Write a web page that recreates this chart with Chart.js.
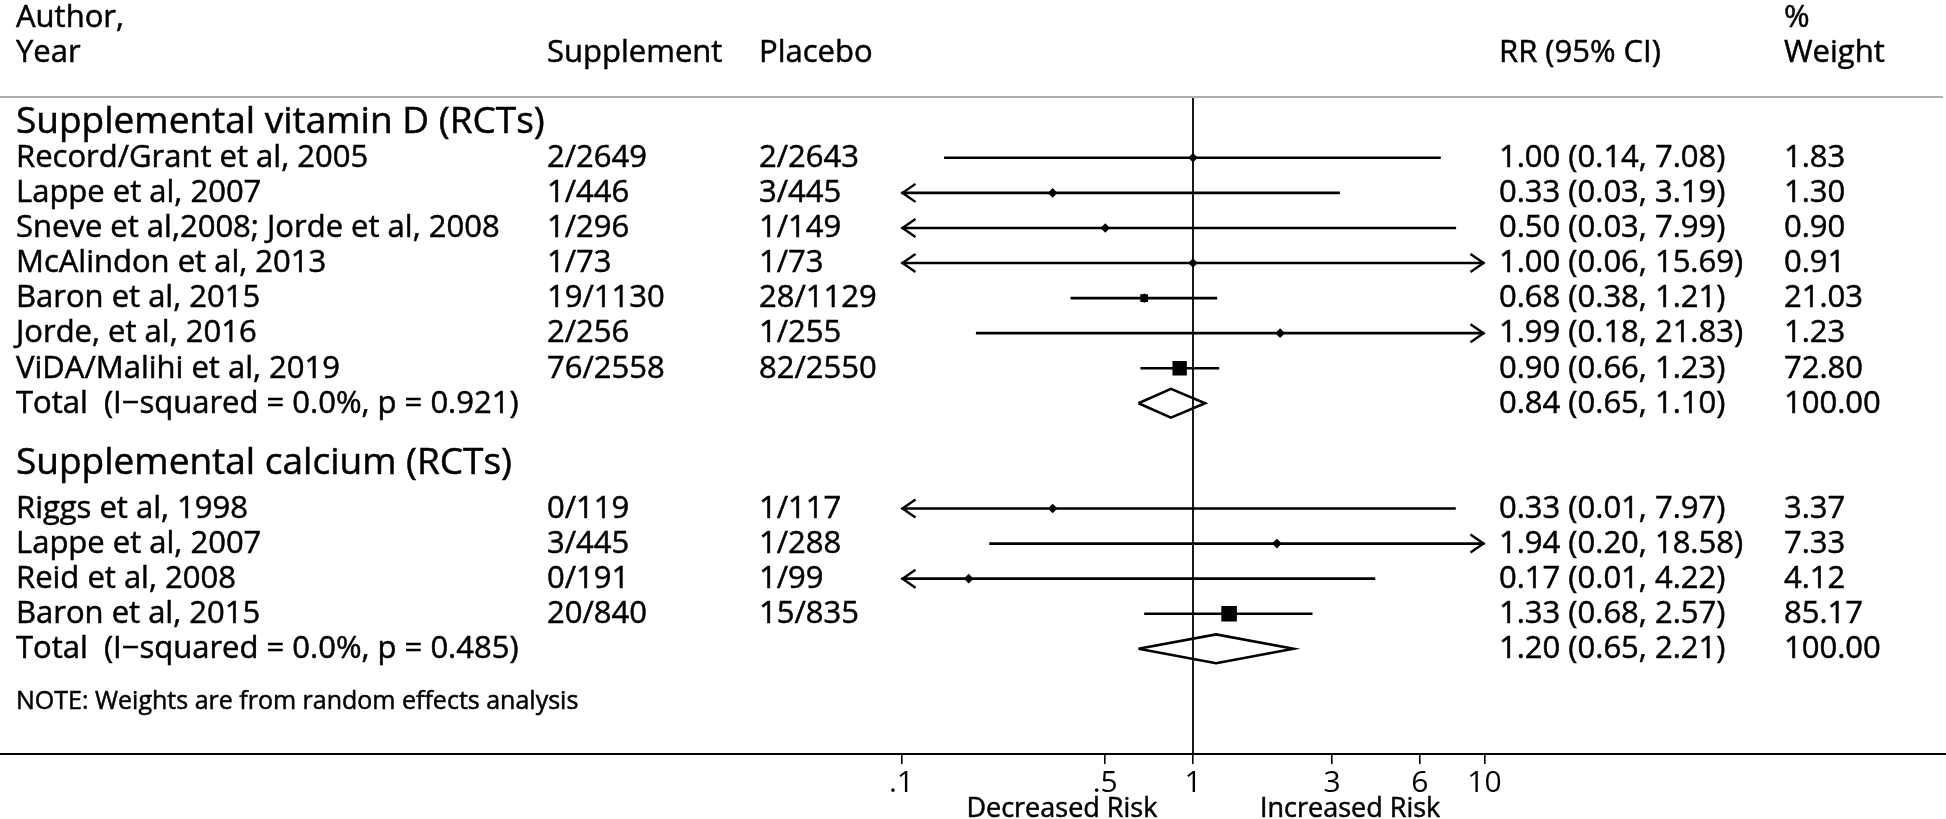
<!DOCTYPE html>
<html>
<head>
<meta charset="utf-8">
<title>Vitamin D / calcium forest plot</title>
<script src="https://cdn.jsdelivr.net/npm/chart.js@4.4.1/dist/chart.umd.min.js"></script>
<style>
  html, body { margin: 0; padding: 0; background: #fff; }
  #wrap { width: 1946px; height: 819px; position: relative; }
</style>
</head>
<body>
<div id="wrap"><canvas id="forest"></canvas></div>
<script>
// ---- values ----
const groupNames = ["Supplemental vitamin D (RCTs)", "Supplemental calcium (RCTs)"];
const groupP = ["0.921", "0.485"];
const groupI2 = ["0.0", "0.0"];
const pooledRR = [0.84, 1.20];
const pooledLow = [0.65, 0.65];
const pooledHigh = [1.10, 2.21];

const studyGroup = [0, 0, 0, 0, 0, 0, 0, 1, 1, 1, 1];
const studyLabels = [
  "Record/Grant et al, 2005",
  "Lappe et al, 2007",
  "Sneve et al,2008; Jorde et al, 2008",
  "McAlindon et al, 2013",
  "Baron et al, 2015",
  "Jorde, et al, 2016",
  "ViDA/Malihi et al, 2019",
  "Riggs et al, 1998",
  "Lappe et al, 2007",
  "Reid et al, 2008",
  "Baron et al, 2015"
];
const supplementEvents = ["2/2649", "1/446", "1/296", "1/73", "19/1130", "2/256", "76/2558", "0/119", "3/445", "0/191", "20/840"];
const placeboEvents = ["2/2643", "3/445", "1/149", "1/73", "28/1129", "1/255", "82/2550", "1/117", "1/288", "1/99", "15/835"];
const studyRR = [1.00, 0.33, 0.50, 1.00, 0.68, 1.99, 0.90, 0.33, 1.94, 0.17, 1.33];
const studyLow = [0.14, 0.03, 0.03, 0.06, 0.38, 0.18, 0.66, 0.01, 0.20, 0.01, 0.68];
const studyHigh = [7.08, 3.19, 7.99, 15.69, 1.21, 21.83, 1.23, 7.97, 18.58, 4.22, 2.57];
const studyWeight = [1.83, 1.30, 0.90, 0.91, 21.03, 1.23, 72.80, 3.37, 7.33, 4.12, 85.17];

const xTicks = [0.1, 0.5, 1, 3, 6, 10];
const xTickLabels = [".1", ".5", "1", "3", "6", "10"];

// ---- layout (row units on the y scale) ----
const groupFirstRow = [0, 10];
const groupHeaderRow = [-1.1, 8.62];
const FONT = "'Open Sans', 'Liberation Sans', sans-serif";
const COL_LABEL = 16, COL_SUPP = 547, COL_PLAC = 759, COL_RR = 1499, COL_WT = 1784;

// row of each study and of each group total
const studyRow = [];
const totalRow = [];
{
  const seen = [0, 0];
  studyGroup.forEach(g => { studyRow.push(groupFirstRow[g] + seen[g]); seen[g]++; });
  seen.forEach((n, g) => totalRow.push(groupFirstRow[g] + n));
}

const fmt = v => v.toFixed(2);

// ---- datasets ----
const datasets = [];
studyRR.forEach((rr, i) => {
  datasets.push({
    type: "scatter", showLine: true,
    data: [{ x: studyLow[i], y: studyRow[i] }, { x: studyHigh[i], y: studyRow[i] }],
    borderColor: "#000", borderWidth: 2.6, pointRadius: 0
  });
});
// weight boxes: area proportional to weight
datasets.push({
  type: "scatter",
  data: studyRR.map((rr, i) => ({ x: rr, y: studyRow[i] })),
  pointStyle: "rect",
  pointRadius: studyWeight.map(w => 10.2 * Math.sqrt(w / 72.8)),
  backgroundColor: "#000", borderWidth: 0
});
// point estimate markers
datasets.push({
  type: "scatter",
  data: studyRR.map((rr, i) => ({ x: rr, y: studyRow[i] })),
  pointStyle: "rectRot", pointRadius: 4.8,
  backgroundColor: "#000", borderWidth: 0
});
// pooled diamonds
const DIAMOND_H = 0.41;
pooledRR.forEach((rr, g) => {
  const r = totalRow[g];
  datasets.push({
    type: "scatter", showLine: true,
    data: [
      { x: pooledLow[g], y: r }, { x: rr, y: r - DIAMOND_H },
      { x: pooledHigh[g], y: r }, { x: rr, y: r + DIAMOND_H },
      { x: pooledLow[g], y: r }
    ],
    borderColor: "#000", borderWidth: 2.6, pointRadius: 0,
    borderJoinStyle: "miter", tension: 0, fill: false
  });
});

function text(ctx, s, x, y, size, align) {
  ctx.font = size + "px " + FONT;
  ctx.textAlign = align || "left";
  ctx.textBaseline = "alphabetic";
  ctx.fillStyle = "#000";
  ctx.strokeStyle = "#000";
  ctx.lineWidth = 0.5;
  ctx.fillText(s, x, y);
  ctx.strokeText(s, x, y);
}

const forestPlugin = {
  id: "forest",
  beforeDatasetsDraw(chart) {
    const { ctx, chartArea, scales } = chart;
    const x1 = scales.x.getPixelForValue(1);
    ctx.save();
    ctx.strokeStyle = "#000";
    ctx.lineWidth = 1.8;
    ctx.beginPath();
    ctx.moveTo(x1, chartArea.top);
    ctx.lineTo(x1, chartArea.bottom);
    ctx.stroke();
    ctx.restore();
  },
  afterDatasetsDraw(chart) {
    const { ctx, scales } = chart;
    const xs = scales.x, ys = scales.y;
    const lo = xs.getPixelForValue(xs.min), hi = xs.getPixelForValue(xs.max);
    ctx.save();
    ctx.strokeStyle = "#000";
    ctx.lineWidth = 2.4;
    ctx.lineJoin = "miter";
    studyRR.forEach((rr, i) => {
      const y = ys.getPixelForValue(studyRow[i]);
      if (studyLow[i] < xs.min) {
        ctx.beginPath();
        ctx.moveTo(lo + 14, y - 9); ctx.lineTo(lo + 1, y); ctx.lineTo(lo + 14, y + 9);
        ctx.stroke();
      }
      if (studyHigh[i] > xs.max) {
        ctx.beginPath();
        ctx.moveTo(hi - 14, y - 9); ctx.lineTo(hi - 1, y); ctx.lineTo(hi - 14, y + 9);
        ctx.stroke();
      }
    });
    ctx.restore();
  },
  afterDraw(chart) {
    const { ctx, chartArea, scales, width } = chart;
    const xs = scales.x, ys = scales.y;
    const base = r => ys.getPixelForValue(r) + 9.3;
    ctx.save();

    // column headings
    text(ctx, "Author,", COL_LABEL, base(-4), 31);
    text(ctx, "Year", COL_LABEL, base(-3), 31);
    text(ctx, "Supplement", COL_SUPP, base(-3), 31);
    text(ctx, "Placebo", COL_PLAC, base(-3), 31);
    text(ctx, "RR (95% CI)", COL_RR, base(-3), 31);
    text(ctx, "%", COL_WT, base(-4), 31);
    text(ctx, "Weight", COL_WT, base(-3), 31);

    // rule under headings
    ctx.strokeStyle = "#b0b0b0";
    ctx.lineWidth = 2;
    ctx.beginPath();
    ctx.moveTo(0, chartArea.top);
    ctx.lineTo(width - 3, chartArea.top);
    ctx.stroke();

    groupNames.forEach((name, g) => {
      text(ctx, name, COL_LABEL, ys.getPixelForValue(groupHeaderRow[g]) + 13.5, 37);
      const r = totalRow[g];
      text(ctx, "Total  (I\u2212squared = " + groupI2[g] + "%, p = " + groupP[g] + ")", COL_LABEL, base(r), 31);
      text(ctx, fmt(pooledRR[g]) + " (" + fmt(pooledLow[g]) + ", " + fmt(pooledHigh[g]) + ")", COL_RR, base(r), 31);
      text(ctx, "100.00", COL_WT, base(r), 31);
    });

    studyLabels.forEach((lab, i) => {
      const y = base(studyRow[i]);
      text(ctx, lab, COL_LABEL, y, 31);
      text(ctx, supplementEvents[i], COL_SUPP, y, 31);
      text(ctx, placeboEvents[i], COL_PLAC, y, 31);
      text(ctx, fmt(studyRR[i]) + " (" + fmt(studyLow[i]) + ", " + fmt(studyHigh[i]) + ")", COL_RR, y, 31);
      text(ctx, fmt(studyWeight[i]), COL_WT, y, 31);
    });

    text(ctx, "NOTE: Weights are from random effects analysis", COL_LABEL, ys.getPixelForValue(15.47) + 9, 25);

    // x axis rule across the full width
    ctx.strokeStyle = "#000";
    ctx.lineWidth = 2.2;
    ctx.beginPath();
    ctx.moveTo(0, chartArea.bottom);
    ctx.lineTo(width, chartArea.bottom);
    ctx.stroke();

    text(ctx, "Decreased Risk", xs.getPixelForValue(0.355), 817, 27, "center");
    text(ctx, "Increased Risk", xs.getPixelForValue(3.46), 817, 27, "center");
    ctx.restore();
  }
};

new Chart(document.getElementById("forest"), {
  type: "scatter",
  data: { datasets },
  options: {
    responsive: true,
    maintainAspectRatio: false,
    animation: false,
    events: [],
    layout: { padding: { left: 901.5, right: 461.5, top: 97, bottom: 17 } },
    plugins: { legend: { display: false }, tooltip: { enabled: false } },
    scales: {
      x: {
        type: "logarithmic",
        min: 0.1,
        max: 10,
        afterBuildTicks: axis => { axis.ticks = xTicks.map(v => ({ value: v })); },
        ticks: {
          autoSkip: false,
          maxRotation: 0,
          padding: 1,
          color: "#000",
          font: { family: FONT, size: 30 },
          callback: (v, i) => xTickLabels[i]
        },
        grid: { display: true, drawOnChartArea: false, drawTicks: true, tickLength: 10, color: "#000", lineWidth: 1.6 },
        border: { display: false }
      },
      y: {
        type: "linear",
        display: false,
        reverse: true,
        min: -1.734,
        max: 17
      }
    }
  },
  plugins: [forestPlugin]
});
</script>
</body>
</html>
